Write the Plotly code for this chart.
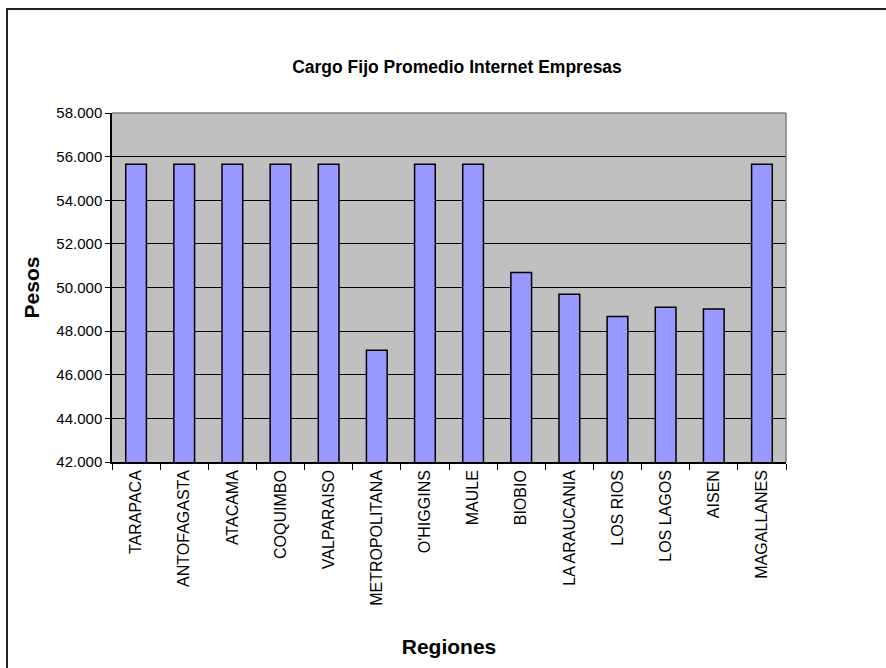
import plotly.graph_objects as go

# Regional fixed-charge averages (pesos)
regiones = ["TARAPACA", "ANTOFAGASTA", "ATACAMA", "COQUIMBO", "VALPARAISO",
            "METROPOLITANA", "O'HIGGINS", "MAULE", "BIOBIO", "LA ARAUCANIA",
            "LOS RIOS", "LOS LAGOS", "AISEN", "MAGALLANES"]
cargo_fijo = [55650, 55650, 55650, 55650, 55650,
              47120, 55650, 55650, 50690, 49690,
              48670, 49090, 49020, 55650]
y_ticks = [42000, 44000, 46000, 48000, 50000, 52000, 54000, 56000, 58000]

W, H = 886, 668
ML, MR, MT, MB = 112, 100, 113, 206
PW, PH = W - ML - MR, H - MT - MB

font = "Liberation Sans, Arial, sans-serif"

fig = go.Figure(go.Bar(
    x=regiones, y=cargo_fijo,
    marker=dict(color="#9999FF", line=dict(color="#000000", width=1.5)),
))

def px_x(p):
    return (p - ML) / PW

def px_y(p):
    return 1 - (p - MT) / PH

fig.update_layout(
    width=W, height=H,
    margin=dict(l=ML, r=MR, t=MT, b=MB),
    paper_bgcolor="white",
    plot_bgcolor="#C0C0C0",
    separators=",.",
    bargap=0.57,
    showlegend=False,
    font=dict(family=font, color="black"),
    title=dict(text="<b>Cargo Fijo Promedio Internet Empresas</b>",
               x=457 / W, xanchor="center", y=1 - 67 / H, yanchor="middle",
               font=dict(size=17.5, family=font)),
    xaxis=dict(
        tickangle=-90, tickfont=dict(size=16, family=font),
        ticks="outside", tickson="boundaries", ticklen=6, tickcolor="black",
        showline=True, linecolor="black", linewidth=1.5,
        showgrid=False,
        title=dict(text="<b>Regiones</b>", font=dict(size=21, family=font), standoff=34),
    ),
    yaxis=dict(
        range=[42000, 58000], tickvals=y_ticks, tickformat=",.0f",
        tickfont=dict(size=15, family=font),
        ticks="outside", ticklen=5, tickcolor="black",
        showline=True, linecolor="black", linewidth=1.5,
        showgrid=True, gridcolor="black", gridwidth=1,
        title=dict(text="<b>Pesos</b>", font=dict(size=21, family=font), standoff=11),
        zeroline=False,
    ),
    shapes=[
        # gray outline on top and right of the plot area
        dict(type="line", xref="paper", yref="paper", x0=0, x1=1, y0=1, y1=1,
             line=dict(color="#808080", width=1.5)),
        dict(type="line", xref="paper", yref="paper", x0=1, x1=1, y0=0, y1=1,
             line=dict(color="#808080", width=1.5)),
        # chart frame
        dict(type="rect", xref="paper", yref="paper",
             x0=px_x(7), x1=px_x(W + 10), y0=px_y(H + 10), y1=px_y(9),
             line=dict(color="#222222", width=2), layer="above"),
    ],
)

fig.write_html("out.html")
